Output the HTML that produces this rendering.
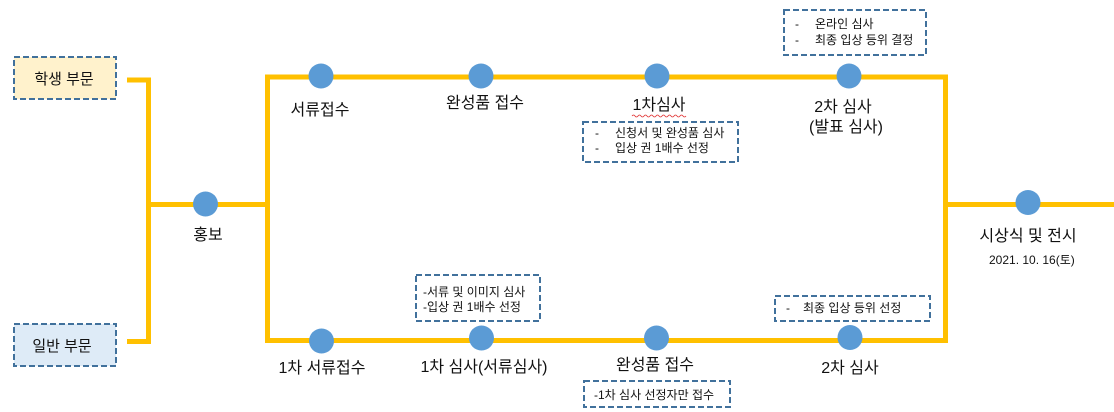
<!DOCTYPE html>
<html><head><meta charset="utf-8"><style>
html,body{margin:0;padding:0;background:#fff;}
svg{display:block;}
text{font-family:"Liberation Sans","Noto Sans CJK KR",sans-serif;fill:#111;}
.l{font-size:16px;text-anchor:middle;}
.s{font-size:12px;}
</style></head><body>
<svg width="1114" height="412" viewBox="0 0 1114 412" xmlns="http://www.w3.org/2000/svg">
<g stroke="#ffc000" stroke-width="5" fill="none" stroke-linecap="butt">
<polyline points="127,80 148.5,80 148.5,341.5 127,341.5"/>
<line x1="148.5" y1="204.5" x2="267.5" y2="204.5"/>
<polyline points="946,77 267.5,77 267.5,340.5 946,340.5"/>
<line x1="945.5" y1="74.5" x2="945.5" y2="343"/>
<line x1="945.5" y1="204.5" x2="1114" y2="204.5"/>
</g>
<g fill="#5b9bd5">
<circle cx="205.5" cy="204" r="12.5"/>
<circle cx="321" cy="76" r="12.5"/>
<circle cx="481" cy="76" r="12.5"/>
<circle cx="657" cy="76" r="12.5"/>
<circle cx="849" cy="76" r="12.5"/>
<circle cx="1028" cy="202.5" r="12.5"/>
<circle cx="321.5" cy="341" r="12.5"/>
<circle cx="481.5" cy="338" r="12.5"/>
<circle cx="656.5" cy="338" r="12.5"/>
<circle cx="850" cy="337.5" r="12.5"/>
</g>
<g stroke="#41719c" stroke-width="2" stroke-dasharray="6 3">
<rect x="14" y="57" width="102" height="42" fill="#fff2cc"/>
<rect x="14" y="324" width="102" height="42" fill="#deebf7"/>
<rect x="784" y="10" width="142" height="45" fill="none"/>
<rect x="583" y="122" width="155" height="40" fill="none"/>
<rect x="416" y="275" width="124" height="46" fill="none"/>
<rect x="775" y="296" width="155" height="25" fill="none"/>
<rect x="584" y="381" width="146" height="26" fill="none"/>
</g>
<text class="l" x="64" y="84" style="font-size:15px">학생 부문</text>
<text class="l" x="62" y="351" style="font-size:15px">일반 부문</text>
<text class="l" x="208" y="240">홍보</text>
<text class="l" x="320" y="115">서류접수</text>
<text class="l" x="485" y="108">완성품 접수</text>
<text class="l" x="659" y="110">1차심사</text>
<path d="M632 116 q1.5 -2 3 0 t3 0 t3 0 t3 0 t3 0 t3 0 t3 0 t3 0 t3 0 t3 0 t3 0 t3 0 t3 0 t3 0 t3 0 t3 0 t3 0 t3 0" stroke="#e03030" stroke-width="0.8" fill="none"/>
<text class="l" x="843" y="112">2차 심사</text>
<text class="l" x="846" y="132">(발표 심사)</text>
<text class="l" x="1028" y="241">시상식 및 전시</text>
<text class="s" x="989" y="264">2021. 10. 16(토)</text>
<text class="l" x="322" y="373">1차 서류접수</text>
<text class="l" x="484" y="372">1차 심사(서류심사)</text>
<text class="l" x="655" y="370">완성품 접수</text>
<text class="l" x="850" y="373">2차 심사</text>
<text class="s" x="795" y="28">-</text><text class="s" x="815" y="28">온라인 심사</text>
<text class="s" x="795" y="44">-</text><text class="s" x="815" y="44">최종 입상 등위 결정</text>
<text class="s" x="595" y="137">-</text><text class="s" x="615" y="137">신청서 및 완성품 심사</text>
<text class="s" x="595" y="152">-</text><text class="s" x="615" y="152">입상 권 1배수 선정</text>
<text class="s" x="423" y="296">-서류 및 이미지 심사</text>
<text class="s" x="423" y="311">-입상 권 1배수 선정</text>
<text class="s" x="786" y="312">-</text><text class="s" x="803" y="312">최종 입상 등위 선정</text>
<text class="s" x="594" y="399">-1차 심사 선정자만 접수</text>
</svg>
</body></html>
